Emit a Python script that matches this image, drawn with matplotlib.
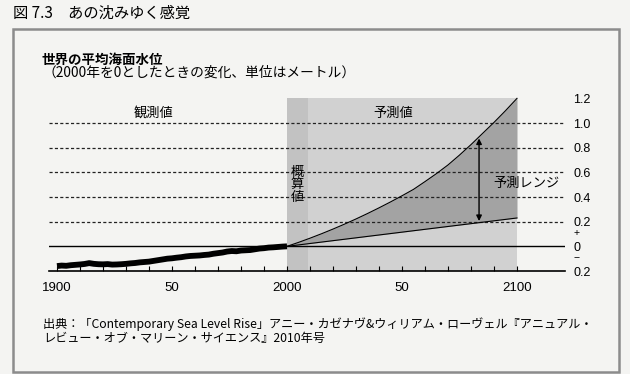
import matplotlib
matplotlib.use("Agg")
import matplotlib.pyplot as plt
from matplotlib.patches import Rectangle

plt.rcParams['font.family'] = ['Noto Sans CJK JP', 'DejaVu Sans']

# observed sea level (m, relative to 2000), every 2 years
obs_years = list(range(1900, 2001, 2))
obs_level = [-0.160, -0.156, -0.158, -0.153, -0.150, -0.147, -0.143, -0.136, -0.142, -0.145,
             -0.146, -0.144, -0.148, -0.147, -0.145, -0.142, -0.138, -0.135, -0.130, -0.127,
             -0.124, -0.118, -0.112, -0.106, -0.100, -0.097, -0.092, -0.088, -0.082, -0.078,
             -0.076, -0.074, -0.070, -0.067, -0.060, -0.055, -0.050, -0.042, -0.038, -0.040,
             -0.034, -0.032, -0.030, -0.024, -0.018, -0.015, -0.010, -0.008, -0.005, -0.002,
             0.000]

# projection range, every 5 years
proj_years = list(range(2000, 2101, 5))
proj_high = [0.0, 0.032, 0.066, 0.102, 0.14, 0.18, 0.222, 0.266, 0.312, 0.36, 0.41,
             0.462, 0.525, 0.59, 0.66, 0.74, 0.825, 0.915, 1.005, 1.10, 1.2]
proj_low = [0.0, 0.0115, 0.023, 0.0345, 0.046, 0.0575, 0.069, 0.0805, 0.092, 0.1035, 0.115,
            0.1265, 0.138, 0.1495, 0.161, 0.1725, 0.184, 0.1955, 0.207, 0.2185, 0.23]

xtick_vals = [1900, 1950, 2000, 2050, 2100]
xtick_labels = ['1900', '50', '2000', '50', '2100']
ytick_vals = [1.2, 1.0, 0.8, 0.6, 0.4, 0.2, 0.0, -0.2]
ytick_labels = ['1.2', '1.0', '0.8', '0.6', '0.4', '0.2', '0', '0.2']
grid_vals = [0.2, 0.4, 0.6, 0.8, 1.0]

W, H = 630, 374
bg = '#f4f4f2'
fig = plt.figure(figsize=(W / 100, H / 100), dpi=100, facecolor=bg)


def px(x, y):
    return x / W, 1 - y / H


# axes placed in pixel terms
l, r, t, b = 49, 565, 92.2, 271
ax = fig.add_axes([l / W, 1 - b / H, (r - l) / W, (b - t) / H])
ax.set_facecolor('none')
ax.set_xlim(1896.52, 2120.87)
ax.set_ylim(-0.2, 1.25)
for s in ['top', 'left', 'right']:
    ax.spines[s].set_visible(False)
ax.spines['bottom'].set_linewidth(1.2)

# shaded projection period
ax.fill_between([2000, 2100], -0.2, 1.2, color='#d1d1d1', lw=0, zorder=1)
ax.fill_between([2000, 2009], -0.2, 1.2, color='#c2c2c2', lw=0, zorder=1)
ax.fill_between(proj_years, proj_low, proj_high, color='#a3a3a3', lw=0, zorder=2)
ax.plot(proj_years, proj_high, color='black', lw=0.8, zorder=4)
ax.plot(proj_years, proj_low, color='black', lw=0.8, zorder=4)

for g in grid_vals:
    ax.axhline(g, color='#222222', lw=0.9, ls=(0, (2.5, 1.8)), zorder=3)
ax.axhline(0, color='black', lw=1.0, zorder=3)

ax.plot(obs_years, obs_level, color='black', lw=4.2, solid_capstyle='butt', zorder=5)

ax.annotate('', xy=(2083.5, 0.875), xytext=(2083.5, 0.205),
            arrowprops=dict(arrowstyle='<|-|>', color='black', lw=1.0,
                            mutation_scale=8, shrinkA=0, shrinkB=0), zorder=6)

ax.set_xticks(xtick_vals)
ax.set_xticklabels(xtick_labels, fontsize=9.5, family='Liberation Sans')
ax.set_xticks(range(1900, 2101, 10), minor=True)
ax.tick_params(axis='x', which='both', direction='in', length=3.5, width=0.8, pad=8)

ax.yaxis.tick_right()
ax.set_yticks(ytick_vals)
ax.set_yticklabels(ytick_labels, fontsize=9, family='Liberation Sans')
ax.tick_params(axis='y', length=0, pad=6)

# labels inside the chart
ax.text(1942, 1.08, '観測値', fontsize=9.5, ha='center', va='center')
ax.text(2046, 1.08, '予測値', fontsize=9.5, ha='center', va='center')
ax.text(2004.5, 0.50, '概\n算\n値', fontsize=9.5, ha='center', va='center', linespacing=0.95)
ax.text(2089.5, 0.51, '予測レンジ', fontsize=9.5, ha='left', va='center')

fig.text(*px(577, 233), '+', fontsize=7.5, family='Liberation Sans', ha='center', va='center')
fig.text(*px(577, 258), '−', fontsize=7.5, family='Liberation Sans', ha='center', va='center')

# titles and source
fig.text(*px(13, 13), '図 7.3　あの沈みゆく感覚', fontsize=11, ha='left', va='center')
fig.text(*px(42, 60), '世界の平均海面水位', fontsize=9.7, fontweight='bold', ha='left', va='center')
fig.text(*px(42, 73), '（2000年を0としたときの変化、単位はメートル）', fontsize=9.9, ha='left', va='center')
fig.text(*px(43, 324), '出典：「Contemporary Sea Level Rise」アニー・カゼナヴ&ウィリアム・ローヴェル『アニュアル・',
         fontsize=8.75, ha='left', va='center')
fig.text(*px(43, 338), 'レビュー・オブ・マリーン・サイエンス』2010年号', fontsize=8.75, ha='left', va='center')

# frame around the figure body
x0, y0 = px(13, 372)
x1, y1 = px(619, 29)
fig.patches.append(Rectangle((x0, y0), x1 - x0, y1 - y0, transform=fig.transFigure,
                             fill=False, edgecolor='#8c8c8c', lw=1.8))

fig.savefig('out.png', dpi=100, facecolor=bg)
